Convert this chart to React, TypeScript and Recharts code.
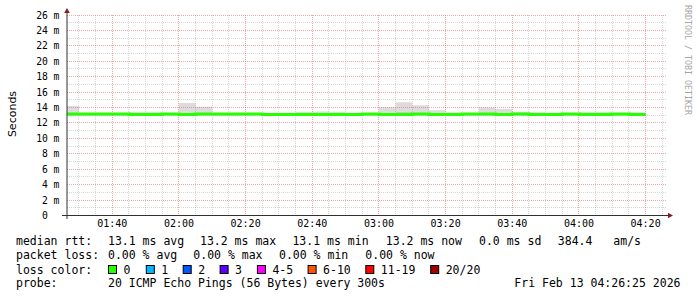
import React from "react"
import { ComposedChart, Area, Line, XAxis, YAxis, ReferenceLine, ReferenceDot } from "recharts"

// time in minutes since midnight, 5 minute bins (01:25 .. 04:15), last bin ends 04:20
const binStart = [85, 90, 95, 100, 105, 110, 115, 120, 125, 130, 135, 140, 145, 150, 155, 160, 165, 170, 175, 180, 185, 190, 195, 200, 205, 210, 215, 220, 225, 230, 235, 240, 245, 250, 255]
const lastBinEnd = 260

const medianMs = [13.17, 13.17, 13.17, 13.17, 13.1, 13.1, 13.17, 13.1, 13.17, 13.17, 13.17, 13.17, 13.1, 13.1, 13.1, 13.1, 13.1, 13.1, 13.17, 13.1, 13.1, 13.17, 13.1, 13.1, 13.17, 13.17, 13.1, 13.17, 13.1, 13.1, 13.17, 13.1, 13.1, 13.17, 13.1]
const smokeFloorMs = 13.0
const smokeTopMs = [14.2, 13.2, 13.2, 13.2, 13.45, 13.45, 13.2, 14.6, 14.1, 13.2, 13.2, 13.2, 13.2, 13.2, 13.45, 13.5, 13.45, 13.3, 13.3, 14.05, 14.7, 14.3, 13.65, 13.35, 13.3, 14.0, 13.8, 13.45, 13.4, 13.2, 13.3, 13.45, 13.45, 13.2, 13.4]
const smokeCoreMs = [13.1, 13.1, 13.1, 13.1, 13.1, 13.1, 13.1, 13.3, 13.25, 13.1, 13.1, 13.1, 13.1, 13.1, 13.1, 13.1, 13.1, 13.1, 13.1, 13.3, 13.4, 13.3, 13.1, 13.1, 13.1, 13.25, 13.1, 13.1, 13.1, 13.1, 13.1, 13.1, 13.1, 13.1, 13.1]

const viewStart = 86 + 25 / 60 // 01:26:25
const viewEnd = 266 + 25 / 60 // 04:26:25

const yTicks = [0, 2, 4, 6, 8, 10, 12, 14, 16, 18, 20, 22, 24, 26]
const yMinor = [1, 3, 5, 7, 9, 11, 13, 15, 17, 19, 21, 23, 25]
const timeTicks = [100, 120, 140, 160, 180, 200, 220, 240, 260]
const timeMinor = [90, 95, 105, 110, 115, 125, 130, 135, 145, 150, 155, 165, 170, 175, 185, 190, 195, 205, 210, 215, 225, 230, 235, 245, 250, 255, 265]

const rttLabels = ["13.1 ms avg", "13.2 ms max", "13.1 ms min", "13.2 ms now", "0.0 ms sd", "384.4", "am/s"]
const lossLabels = ["0.00 % avg", "0.00 % max", "0.00 % min", "0.00 % now"]
const lossColorLabels = ["0", "1", "2", "3", "4-5", "6-10", "11-19", "20/20"]
const lossColors = ["#26ff00", "#00b8ff", "#0059ff", "#5e00ff", "#ff00ff", "#ff5500", "#ff0000", "#a00000"]
const probeText = "20 ICMP Echo Pings (56 Bytes) every 300s"
const stampText = "Fri Feb 13 04:26:25 2026"

// layout
const rttX = [108, 200, 292.4, 385.8, 479, 557.8, 613.3]
const lossX = [108, 193.3, 279, 365.3]
const swatchX = [108, 145.8, 182.7, 219.6, 256.9, 307.6, 365.3, 430.2]

const rows = binStart.map((t, i) => ({
  t,
  median: medianMs[i],
  smoke: [smokeFloorMs, smokeTopMs[i]],
  core: [smokeFloorMs, smokeCoreMs[i]],
}))
rows.push({ ...rows[rows.length - 1], t: lastBinEnd })

const MONO = "DejaVu Sans Mono"
const MINOR = "rgba(128,128,128,0.32)"
const MAJOR = "rgba(222,80,74,0.5)"
const ARROW = "#802020"
const AXIS = "#303030"

function hhmm(v: number) {
  const h = Math.floor(v / 60)
  const m = Math.round(v % 60)
  return `${String(h).padStart(2, "0")}:${String(m).padStart(2, "0")}`
}

function TimeTick(p: any) {
  return (
    <text x={p.x} y={227.3} textAnchor="middle" fontFamily={MONO} fontSize={10} fill="#000">
      {hhmm(p.payload.value)}
    </text>
  )
}

function MsTick(p: any) {
  const v = p.payload.value
  return (
    <g>
      <text x={47.9} y={p.y + 3.5} textAnchor="end" fontFamily={MONO} fontSize={9.7} fill="#000">
        {v}
      </text>
      {v !== 0 && (
        <text x={53.6} y={p.y + 3.5} fontFamily={MONO} fontSize={9.7} fill="#000">
          m
        </text>
      )}
    </g>
  )
}

export default function App() {
  return (
    <div style={{ position: "absolute", left: 0, top: 0, width: 697, height: 297, background: "#fff" }}>
      <ComposedChart width={697} height={230} data={rows} margin={{ top: 15, right: 30, bottom: 0, left: 0 }}>
        <XAxis
          type="number"
          dataKey="t"
          domain={[viewStart, viewEnd]}
          allowDataOverflow
          ticks={timeTicks}
          interval={0}
          tick={(p: any) => <TimeTick {...p} />}
          axisLine={false}
          tickLine={false}
          height={14.5}
        />
        <YAxis
          type="number"
          domain={[0, 26]}
          allowDataOverflow
          ticks={yTicks}
          interval={0}
          tick={(p: any) => <MsTick {...p} />}
          axisLine={false}
          tickLine={false}
          width={67}
        />
        {yMinor.map((v) => (
          <ReferenceLine key={`ym${v}`} y={v} stroke={MINOR} strokeDasharray="1 1" shapeRendering="crispEdges" />
        ))}
        {timeMinor.map((v) => (
          <ReferenceLine key={`tm${v}`} x={v} stroke={MINOR} strokeDasharray="1 1" shapeRendering="crispEdges" />
        ))}
        {yTicks
          .filter((v) => v > 0)
          .map((v) => (
            <ReferenceLine key={`yM${v}`} y={v} stroke={MAJOR} strokeDasharray="1 1" shapeRendering="crispEdges" />
          ))}
        {timeTicks.map((v) => (
          <ReferenceLine key={`tM${v}`} x={v} stroke={MAJOR} strokeDasharray="1 1" shapeRendering="crispEdges" />
        ))}
        <Area
          dataKey="smoke"
          type="stepAfter"
          fill="#dcdcdc"
          fillOpacity={1}
          stroke="none"
          isAnimationActive={false}
        />
        <Area
          dataKey="core"
          type="stepAfter"
          fill="#c2c2c2"
          fillOpacity={1}
          stroke="none"
          isAnimationActive={false}
        />
        <Line
          dataKey="median"
          type="stepAfter"
          stroke="#26ff00"
          strokeWidth={3}
          dot={false}
          isAnimationActive={false}
        />
        <ReferenceLine
          segment={[{ x: viewStart - 1.5, y: 0 }, { x: viewEnd + 0.3, y: 0 }]}
          ifOverflow="visible"
          stroke={AXIS}
          strokeWidth={1}
        />
        <ReferenceLine
          segment={[{ x: viewStart, y: -0.45 }, { x: viewStart, y: 26.4 }]}
          ifOverflow="visible"
          stroke={AXIS}
          strokeWidth={1}
        />
        <ReferenceDot
          x={viewEnd}
          y={0}
          ifOverflow="visible"
          shape={(p: any) => (
            <path d={`M${p.cx + 1},${p.cy - 2.8} L${p.cx + 6},${p.cy} L${p.cx + 1},${p.cy + 2.8} Z`} fill={ARROW} />
          )}
        />
        <ReferenceDot
          x={viewStart}
          y={26}
          ifOverflow="visible"
          shape={(p: any) => (
            <path d={`M${p.cx - 2.8},${p.cy - 2} L${p.cx},${p.cy - 7} L${p.cx + 2.8},${p.cy - 2} Z`} fill={ARROW} />
          )}
        />
      </ComposedChart>

      <svg width={697} height={297} style={{ position: "absolute", left: 0, top: 0, pointerEvents: "none" }}>
        <text
          transform="translate(15.5,114) rotate(-90)"
          textAnchor="middle"
          fontFamily="DejaVu Sans"
          fontSize={11}
          fill="#000"
        >
          Seconds
        </text>
        <text
          transform="translate(684.5,5) rotate(90)"
          fontFamily={MONO}
          fontSize={8.3}
          fill="#a6a6a6"
        >
          RRDTOOL / TOBI OETIKER
        </text>

        <g fontFamily={MONO} fontSize={11.5} fill="#000">
          <text x={16} y={245}>median rtt:</text>
          {rttLabels.map((s, i) => (
            <text key={s + i} x={rttX[i]} y={245}>{s}</text>
          ))}

          <text x={16} y={259}>packet loss:</text>
          {lossLabels.map((s, i) => (
            <text key={s + i} x={lossX[i]} y={259}>{s}</text>
          ))}

          <text x={16} y={273.5}>loss color:</text>
          {lossColorLabels.map((s, i) => (
            <g key={s}>
              <rect x={swatchX[i] + 0.5} y={265.5} width={8} height={8} fill={lossColors[i]} stroke="#000" strokeWidth={1} />
              <text x={swatchX[i] + 15.5} y={273.5}>{s}</text>
            </g>
          ))}

          <text x={16} y={287}>probe:</text>
          <text x={108} y={287}>{probeText}</text>
          <text x={680.5} y={287} textAnchor="end">{stampText}</text>
        </g>
      </svg>
    </div>
  )
}
